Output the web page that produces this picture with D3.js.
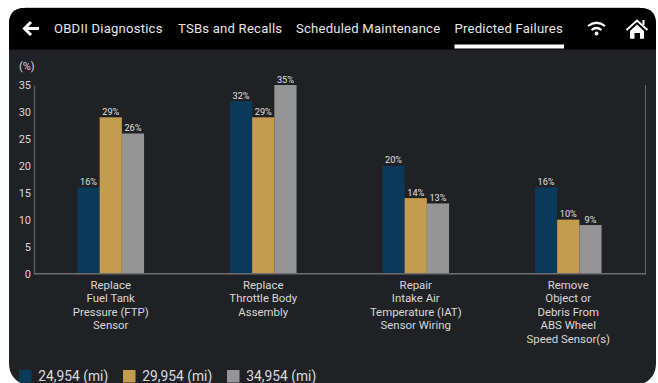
<!DOCTYPE html>
<html><head><meta charset="utf-8">
<script src="https://cdn.jsdelivr.net/npm/d3@7"></script>
<style>html,body{margin:0;padding:0;background:#fff;overflow:hidden}svg{display:block}text{font-family:Roboto,sans-serif}</style>
</head><body><svg id="c" width="658" height="383"></svg>
<script>
const categories=[["Replace","Fuel Tank","Pressure (FTP)","Sensor"],["Replace","Throttle Body","Assembly"],["Repair","Intake Air","Temperature (IAT)","Sensor Wiring"],["Remove","Object or","Debris From","ABS Wheel","Speed Sensor(s)"]];
const seriesNames=["24,954 (mi)","29,954 (mi)","34,954 (mi)"];
const seriesColors=["#0a3a5a","#c49c4e","#959595"];
const values24954=[16,32,20,16];
const values29954=[29,29,14,10];
const values34954=[26,35,13,9];
const yTicks=[0,5,10,15,20,25,30,35];
const tabs=[["OBDII Diagnostics",54],["TSBs and Recalls",178],["Scheduled Maintenance",296],["Predicted Failures",454.5]];
const allValues=[values24954,values29954,values34954];
const svg=d3.select("#c");
const L=9,R=656,T=8,B=383;
svg.append("path").attr("d",`M${L},${B-20} V${T+16} Q${L},${T} ${L+16},${T} H${R-16} Q${R},${T} ${R},${T+16} V${B-20} Q${R},${B-3} ${R-17},${B+2} H${L+17} Q${L},${B-3} ${L},${B-20}Z`).attr("fill","#202124");
svg.append("path").attr("d",`M${L},49.5 V${T+16} Q${L},${T} ${L+16},${T} H${R-16} Q${R},${T} ${R},${T+16} V49.5Z`).attr("fill","#000");
svg.append("line").attr("x1",L+16).attr("x2",R-16).attr("y1",7.5).attr("y2",7.5).attr("stroke","#aaa").attr("stroke-width",.6);
svg.selectAll("text.tab").data(tabs).join("text").attr("class","tab").attr("x",d=>d[1]).attr("y",32.8).attr("font-size",13.1).attr("letter-spacing",".22").attr("fill","#e6e6e6").text(d=>d[0]);
svg.append("rect").attr("x",454.5).attr("y",44.5).attr("width",109.5).attr("height",4).attr("fill","#fff");
svg.append("path").attr("d","M39,28.5 H25 M31,22 L24.5,28.5 L31,35").attr("fill","none").attr("stroke","#fff").attr("stroke-width",3);
const wifi=svg.append("g").attr("fill","none").attr("stroke","#fff").attr("stroke-width",2.2);
wifi.append("path").attr("d","M588,26 Q596.5,19.5 605,26");
wifi.append("path").attr("d","M591.5,30 Q596.5,26 601.5,30");
svg.append("circle").attr("cx",596.5).attr("cy",33.5).attr("r",1.9).attr("fill","#fff");
svg.append("path").attr("d","M626.5,30 L637,20.5 L647.5,30").attr("fill","none").attr("stroke","#fff").attr("stroke-width",1.9);
svg.append("path").attr("d","M630,31 L637,24.5 L644,31 V38.7 H640 V33 H634.5 V38.7 H630Z").attr("fill","#fff");
svg.append("rect").attr("x",642.5).attr("y",20).attr("width",2).attr("height",5).attr("fill","#fff");
const x0=d3.scaleBand().domain(d3.range(categories.length)).range([34.5,644.5]);
const y=d3.scaleLinear().domain([0,35]).range([273.5,85]);
const barW=22.2;
const xOff=d3.scaleLinear().domain([0,3]).range([-barW*1.5,barW*1.5]);
const gy=svg.append("g").attr("transform","translate(34,0)").call(d3.axisLeft(y).tickValues(yTicks).tickSize(0).tickPadding(3));
gy.select(".domain").attr("stroke","#55575a").attr("stroke-width",1.6);
gy.selectAll("text").attr("fill","#d8d8d8").attr("font-size",11).attr("font-family","Roboto,sans-serif");
svg.append("text").attr("x",19).attr("y",70).attr("font-size",11).attr("fill","#d8d8d8").text("(%)");
allValues.forEach((vals,s)=>{
  const g=svg.append("g");
  g.selectAll("rect").data(vals).join("rect")
   .attr("x",(d,i)=>x0(i)+x0.bandwidth()/2+xOff(s))
   .attr("y",d=>y(d)).attr("width",barW).attr("height",d=>y(0)-y(d)).attr("fill",seriesColors[s]);
  g.selectAll("text").data(vals).join("text")
   .attr("x",(d,i)=>x0(i)+x0.bandwidth()/2+xOff(s)+barW/2)
   .attr("y",d=>y(d)-2.5).attr("text-anchor","middle").attr("font-size",9.2).attr("fill","#e0e0e0").text(d=>d+"%");
});
svg.append("line").attr("x1",34).attr("x2",646).attr("y1",273.7).attr("y2",273.7).attr("stroke","#6c6e70").attr("stroke-width",1.4);
svg.append("line").attr("x1",645.5).attr("x2",645.5).attr("y1",85).attr("y2",274).attr("stroke","#6c6e70").attr("stroke-width",.9);
categories.forEach((lines,i)=>{
  svg.append("text").attr("text-anchor","middle").attr("font-size",11.4).attr("fill","#d8d8d8")
   .selectAll("tspan").data(lines).join("tspan")
   .attr("x",x0(i)+x0.bandwidth()/2).attr("y",(d,k)=>288.8+k*13.55).text(d=>d);
});
const lx=[19,123,227];
seriesNames.forEach((n,i)=>{
  svg.append("rect").attr("x",lx[i]).attr("y",370).attr("width",12.5).attr("height",12.5).attr("fill",seriesColors[i]);
  svg.append("text").attr("x",lx[i]+19.3).attr("y",381).attr("font-size",13.8).attr("fill","#dcdcdc").text(n);
});
</script></body></html>
